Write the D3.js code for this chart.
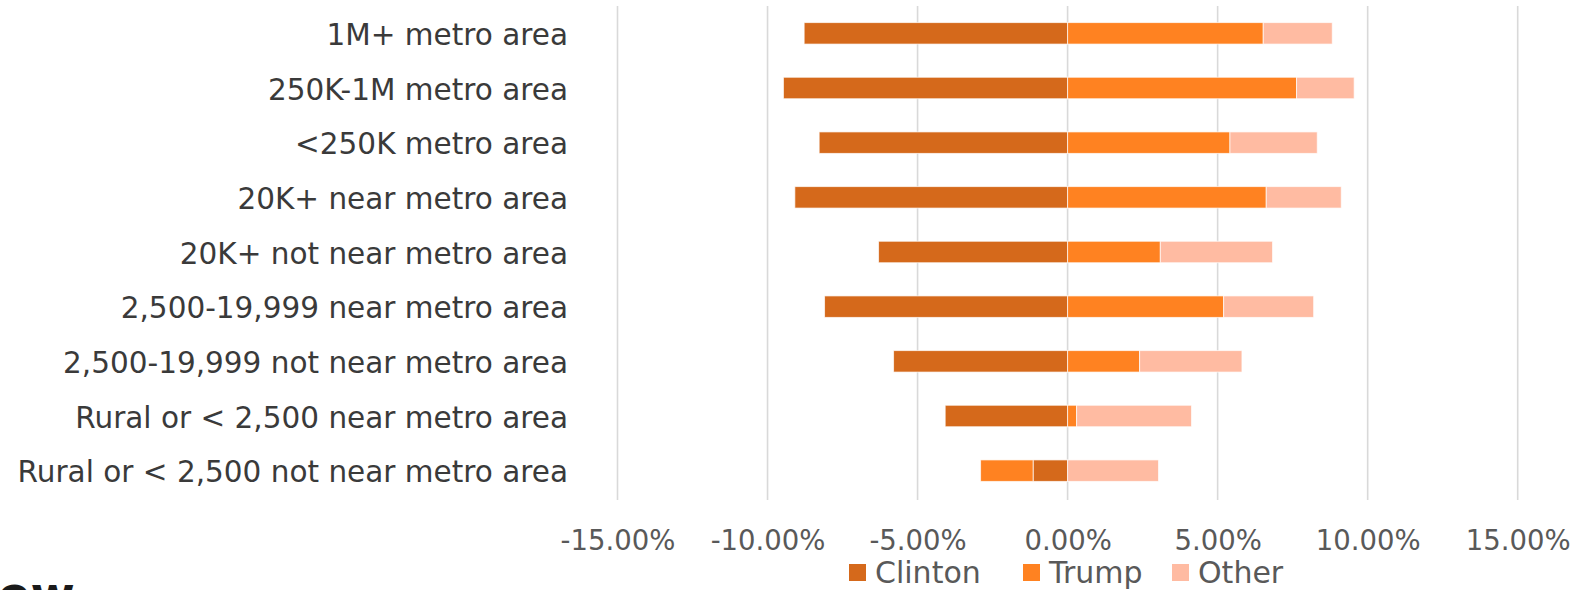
<!DOCTYPE html>
<html>
<head>
<meta charset="utf-8">
<script src="https://cdn.jsdelivr.net/npm/d3@7"></script>
<style>
  html, body { margin: 0; padding: 0; background: #fff; }
  svg { display: block; }
  text { font-family: "DejaVu Sans", sans-serif; }
</style>
</head>
<body>
<svg id="chart" width="1577" height="590"></svg>
<script>
// Change in vote share by county type (percentage points)
const categories = [
  "1M+ metro area",
  "250K-1M metro area",
  "<250K metro area",
  "20K+ near metro area",
  "20K+ not near metro area",
  "2,500-19,999 near metro area",
  "2,500-19,999 not near metro area",
  "Rural or < 2,500 near metro area",
  "Rural or < 2,500 not near metro area"
];
const seriesNames = ["Clinton", "Trump", "Other"];
const clinton = [-8.78, -9.47, -8.28, -9.09, -6.30, -8.10, -5.80, -4.08, -1.15];
const trump   = [ 6.52,  7.63,  5.41,  6.62,  3.09,  5.20,  2.40,  0.30, -1.75];
const other   = [ 2.30,  1.92,  2.91,  2.50,  3.74,  3.00,  3.41,  3.83,  3.03];
const tickValues = [-15, -10, -5, 0, 5, 10, 15];
const colors = ["#D5691B", "#FF8221", "#FFBBA2"];

const rows = categories.map((c, i) => ({
  category: c, Clinton: clinton[i], Trump: trump[i], Other: other[i]
}));

const svg = d3.select("#chart");
const plot = { left: 617.5, right: 1517.7, top: 6, bottom: 498 };

const x = d3.scaleLinear().domain([-15, 15]).range([plot.left, plot.right]);
const y = d3.scaleBand().domain(categories)
  .range([plot.top, plot.bottom])
  .paddingInner(0.607).paddingOuter(0.3035);
const color = d3.scaleOrdinal().domain(seriesNames).range(colors);

// vertical gridlines
svg.append("g").selectAll("line").data(tickValues).join("line")
  .attr("x1", d => x(d)).attr("x2", d => x(d))
  .attr("y1", plot.top).attr("y2", plot.bottom + 2)
  .attr("stroke", "#D9D9D9").attr("stroke-width", 1.6);

// stacked bars, negatives stacking leftwards from zero
const stacked = d3.stack().keys(seriesNames).offset(d3.stackOffsetDiverging)(rows);
svg.append("g").selectAll("g").data(stacked).join("g")
  .attr("fill", d => color(d.key))
  .selectAll("rect").data(d => d).join("rect")
  .attr("x", d => x(Math.min(d[0], d[1])))
  .attr("width", d => Math.abs(x(d[1]) - x(d[0])))
  .attr("y", d => y(d.data.category))
  .attr("height", y.bandwidth())
  .attr("stroke", "#fff").attr("stroke-opacity", 0.7).attr("stroke-width", 1);

// category labels
svg.append("g").selectAll("text").data(categories).join("text")
  .attr("x", 568)
  .attr("y", d => y(d) + y.bandwidth() / 2 + 11.5)
  .attr("text-anchor", "end")
  .attr("font-size", 29.5)
  .attr("fill", "#3a3a3a")
  .text(d => d);

// x axis tick labels
const xAxis = d3.axisBottom(x).tickValues(tickValues)
  .tickFormat(d => d.toFixed(2) + "%").tickSize(0).tickPadding(0);
const axisG = svg.append("g").attr("transform", `translate(0,${plot.bottom})`).call(xAxis);
axisG.select(".domain").remove();
axisG.selectAll("text")
  .attr("font-family", "DejaVu Sans, sans-serif")
  .attr("font-size", 27.5)
  .attr("fill", "#595959")
  .attr("dy", null)
  .attr("y", 52);

// legend
const legendX = [849, 1023, 1172];
const legend = svg.append("g").selectAll("g").data(seriesNames).join("g")
  .attr("transform", (d, i) => `translate(${legendX[i]},564)`);
legend.append("rect").attr("width", 17).attr("height", 17).attr("fill", d => color(d));
legend.append("text").attr("x", 26).attr("y", 19)
  .attr("font-size", 30).attr("fill", "#595959").text(d => d);

// logo fragment along the bottom edge
svg.append("text").attr("x", -2).attr("y", 611)
  .attr("font-size", 48).attr("font-weight", "bold").attr("fill", "#1a1a1a")
  .text("ew");
</script>
</body>
</html>
